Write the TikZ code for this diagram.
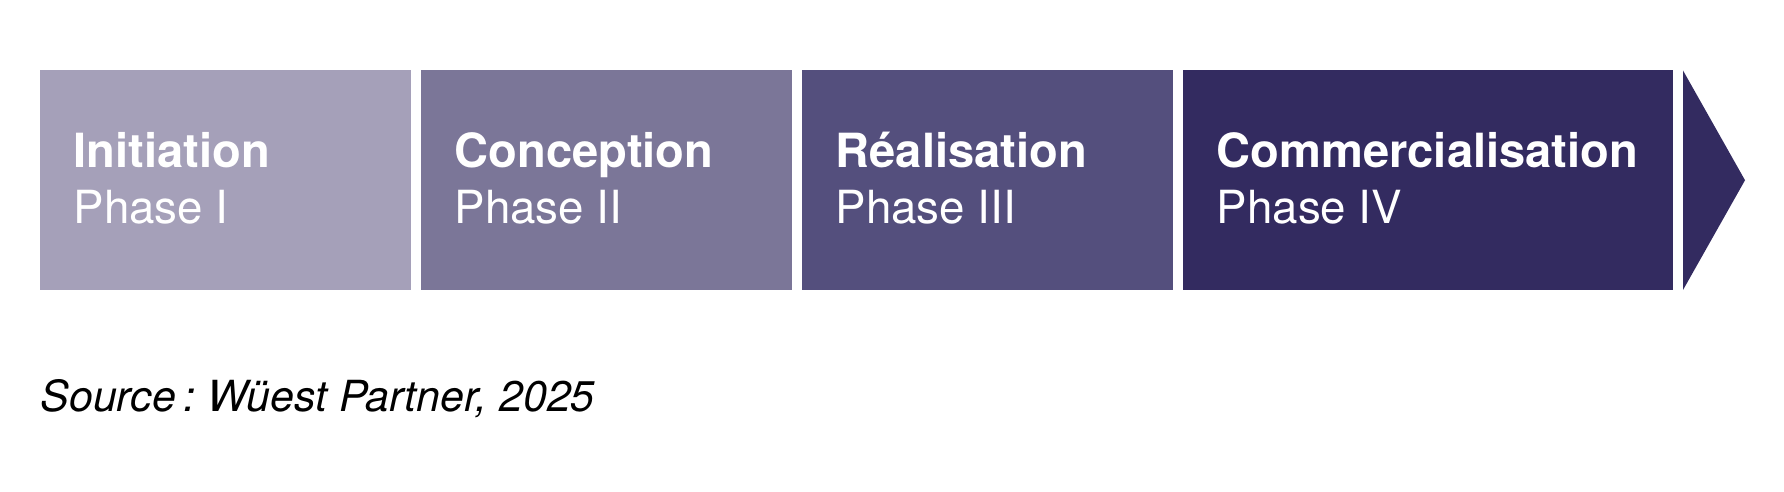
\documentclass[tikz,border=0pt]{standalone}
\usepackage{fontspec}
\setmainfont{TeX Gyre Heros}
\usepackage{tikz}
\usepackage{color}

\definecolor{phaseA}{RGB}{165,160,185}
\definecolor{phaseB}{RGB}{123,118,152}
\definecolor{phaseC}{RGB}{84,79,125}
\definecolor{phaseD}{RGB}{51,43,96}

\tikzset{
  phasebox/.style={draw=none, minimum height=2.195cm, inner sep=0pt, outer sep=0pt},
  phasetitle/.style={anchor=base west, inner sep=0pt, text=white, font=\fontsize{13.4}{16}\selectfont\bfseries},
  phasesub/.style={anchor=base west, inner sep=0pt, text=white, font=\fontsize{13}{16}\selectfont}
}

\begin{document}
\begin{tikzpicture}
        \useasboundingbox (0,0) rectangle (17.84,4.92);

        % boxes
        \node[phasebox, fill=phaseA, minimum width=3.71cm] (init) at (2.255,3.1175) {};
        \node[phasebox, fill=phaseB, minimum width=3.71cm] (conc) at (6.065,3.1175) {};
        \node[phasebox, fill=phaseC, minimum width=3.71cm] (real) at (9.875,3.1175) {};
        \node[phasebox, fill=phaseD, minimum width=4.90cm] (comm) at (14.28,3.1175) {};

        %% arrow head
        \coordinate (tipTop) at (16.83,4.215);
        \coordinate (tip) at (17.45,3.1175);
        \coordinate (tipBot) at (16.83,2.02);
        \fill[phaseD] (tipTop) -- (tip) -- (tipBot) -- cycle;

        % labels
        \node[phasetitle] (initT) at ([xshift=0.33cm, yshift=-0.975cm]init.north west) {Initiation};
        \node[phasesub] (initS) at ([xshift=0.33cm, yshift=-1.535cm]init.north west) {Phase I};
        \node[phasetitle] (concT) at ([xshift=0.33cm, yshift=-0.975cm]conc.north west) {Conception};
        \node[phasesub] (concS) at ([xshift=0.33cm, yshift=-1.535cm]conc.north west) {Phase II};
        \node[phasetitle] (realT) at ([xshift=0.33cm, yshift=-0.975cm]real.north west) {Réalisation};
        \node[phasesub] (realS) at ([xshift=0.33cm, yshift=-1.535cm]real.north west) {Phase III};
        \node[phasetitle] (commT) at ([xshift=0.33cm, yshift=-0.975cm]comm.north west) {Commercialisation};
        \node[phasesub] (commS) at ([xshift=0.33cm, yshift=-1.535cm]comm.north west) {Phase IV};

        %% source
        \node[anchor=base west, inner sep=0pt, font=\fontsize{12.2}{15}\selectfont\itshape] (src) at (0.40,0.80) {Source\,:\ Wüest Partner, 2025};
\end{tikzpicture}
\end{document}
